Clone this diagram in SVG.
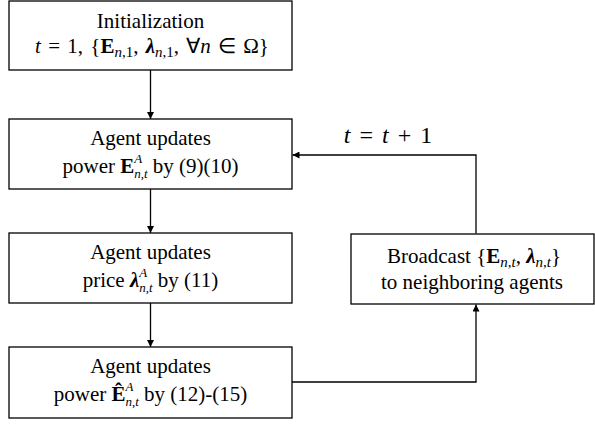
<svg xmlns="http://www.w3.org/2000/svg" width="595" height="424" viewBox="0 0 595 424">
<defs>
<marker id="ah" viewBox="0 0 10 10" refX="10" refY="5" markerWidth="7" markerHeight="7" markerUnits="userSpaceOnUse" orient="auto">
<path d="M0,0 L10,5 L0,10 z" fill="#000"/>
</marker>
<style>
.box{fill:#fff;stroke:#000;stroke-width:1.3}
.t{font-family:"Liberation Serif","Times New Roman",serif;font-size:21px;fill:#000;text-anchor:middle}
.i{font-style:italic}
.b{font-weight:bold}
.s{font-size:15px}
.ss{font-size:13px}
.c{stroke:#000;stroke-width:1.3;fill:none;marker-end:url(#ah)}
</style>
</defs>
<rect width="595" height="424" fill="#fff"/>
<g id="connectors">
<line class="c" x1="150.5" y1="70" x2="150.5" y2="119"/>
<line class="c" x1="150.5" y1="189" x2="150.5" y2="233"/>
<line class="c" x1="150.5" y1="303" x2="150.5" y2="347"/>
<polyline class="c" points="292,382 476,382 476,304.5"/>
<polyline class="c" points="476,233.5 476,155 292.5,155"/>
<text class="t" x="388" y="143" style="font-size:24px;word-spacing:3px"><tspan class="i">t</tspan> = <tspan class="i">t</tspan> + 1</text>
</g>
<g id="init">
<rect class="box" x="9" y="1" width="283" height="69"/>
<text class="t" x="150.5" y="28">Initialization</text>
<text class="t" x="152" y="53" style="word-spacing:2px"><tspan class="i">t</tspan> = 1, {<tspan class="b">E</tspan><tspan class="s i" dy="4">n</tspan><tspan class="s">,1</tspan><tspan dy="-4">, </tspan><tspan class="b i">λ</tspan><tspan class="s i" dy="4">n</tspan><tspan class="s">,1</tspan><tspan dy="-4">, ∀</tspan><tspan class="i">n</tspan> ∈ Ω}</text>
</g>
<g id="power">
<rect class="box" x="9" y="119" width="283" height="70"/>
<text class="t" x="150.5" y="145">Agent updates</text>
<text class="t" x="150.5" y="173">power <tspan class="b">E</tspan><tspan class="ss i" dy="-10">A</tspan><tspan class="ss i" dx="-8" dy="15">n</tspan><tspan class="ss">,</tspan><tspan class="ss i">t</tspan><tspan dy="-5"> by (9)(10)</tspan></text>
</g>
<g id="price">
<rect class="box" x="9" y="233" width="283" height="70"/>
<text class="t" x="150.5" y="259">Agent updates</text>
<text class="t" x="150.5" y="287">price <tspan class="b i">λ</tspan><tspan class="ss i" dy="-10">A</tspan><tspan class="ss i" dx="-8" dy="15">n</tspan><tspan class="ss">,</tspan><tspan class="ss i">t</tspan><tspan dy="-5"> by (11)</tspan></text>
</g>
<g id="powerhat">
<rect class="box" x="9" y="347" width="283" height="71"/>
<text class="t" x="150.5" y="373">Agent updates</text>
<text class="t" x="150.5" y="401">power <tspan class="b">Ê</tspan><tspan class="ss i" dy="-10">A</tspan><tspan class="ss i" dx="-8" dy="15">n</tspan><tspan class="ss">,</tspan><tspan class="ss i">t</tspan><tspan dy="-5"> by (12)-(15)</tspan></text>
</g>
<g id="broadcast">
<rect class="box" x="351" y="234" width="243" height="70"/>
<text class="t" x="474" y="263">Broadcast {<tspan class="b">E</tspan><tspan class="s i" dy="4">n</tspan><tspan class="s">,</tspan><tspan class="s i">t</tspan><tspan dy="-4">, </tspan><tspan class="b i">λ</tspan><tspan class="s i" dy="4">n</tspan><tspan class="s">,</tspan><tspan class="s i">t</tspan><tspan dy="-4">}</tspan></text>
<text class="t" x="472" y="289">to neighboring agents</text>
</g>
</svg>
